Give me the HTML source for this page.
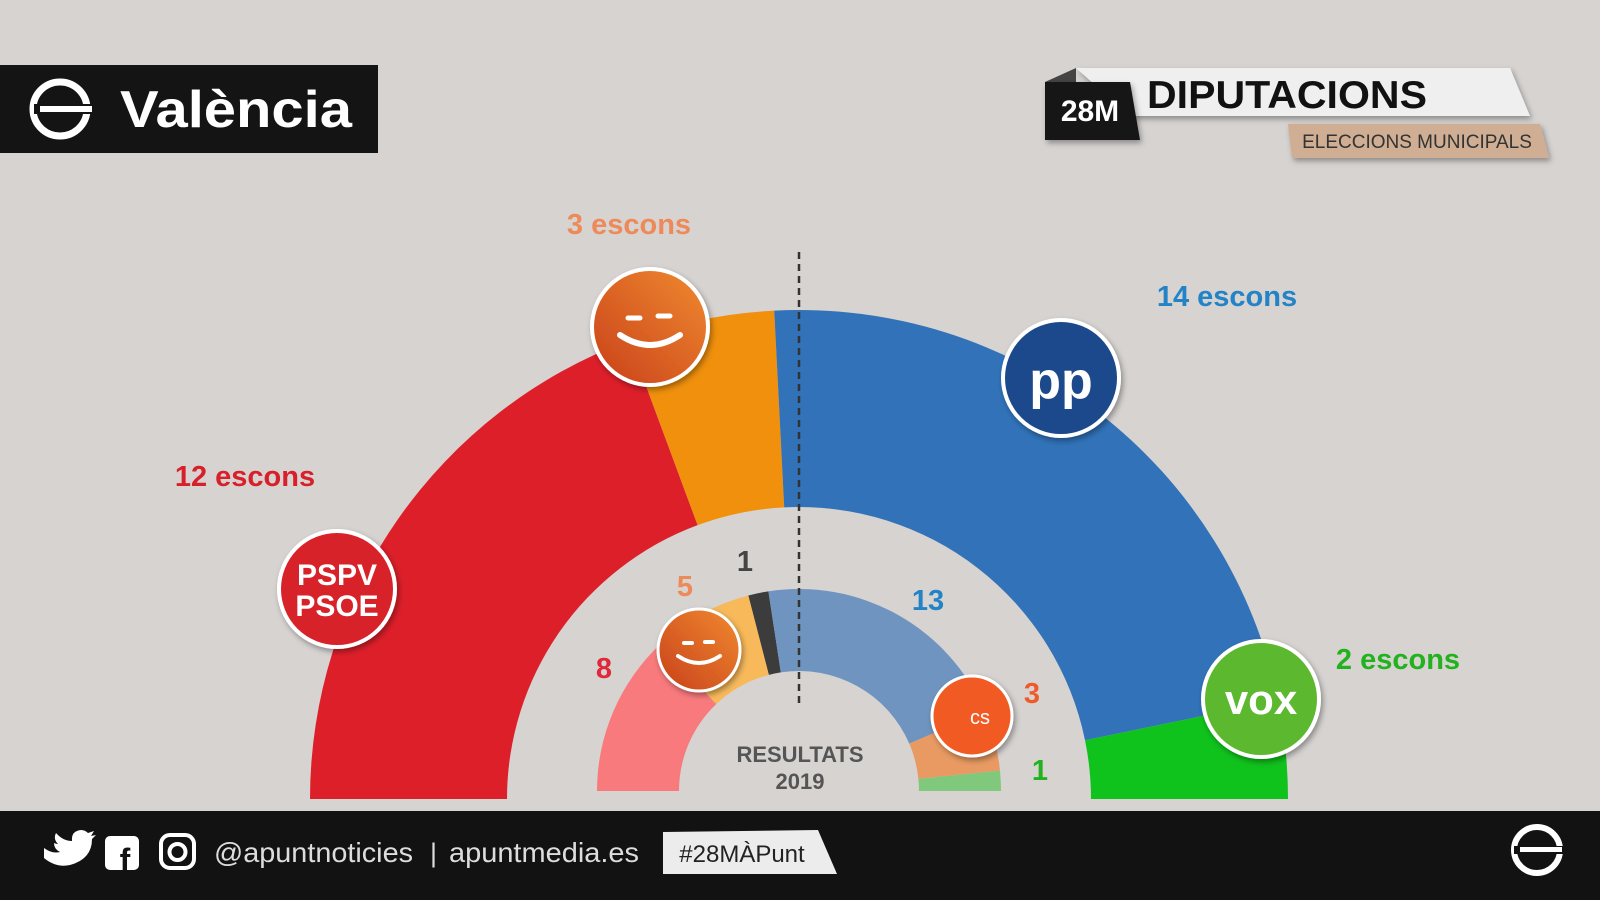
<!DOCTYPE html>
<html><head><meta charset="utf-8"><style>
html,body{margin:0;padding:0;background:#d6d3d1;}
svg{display:block;}
text{font-family:"Liberation Sans","DejaVu Sans",sans-serif;}
</style></head><body>
<svg width="1600" height="900" viewBox="0 0 1600 900" xmlns="http://www.w3.org/2000/svg">
<defs>
<filter id="sh" x="-30%" y="-30%" width="160%" height="160%"><feDropShadow dx="2" dy="3" stdDeviation="3" flood-opacity="0.35"/></filter>
<linearGradient id="cg" x1="0" y1="1" x2="1" y2="0"><stop offset="0" stop-color="#c8401a"/><stop offset="1" stop-color="#f08a30"/></linearGradient>
</defs>
<rect width="1600" height="900" fill="#d6d3d1"/>
<!-- header left -->
<rect x="0" y="65" width="378" height="88" fill="#141414"/>
<circle cx="60" cy="109" r="27" fill="none" stroke="#fff" stroke-width="7"/>
<rect x="34" y="104" width="60" height="10" fill="#141414"/>
<rect x="40" y="106" width="52" height="6" fill="#fff"/>
<text x="120" y="127" font-size="52" font-weight="bold" fill="#fff" textLength="232" lengthAdjust="spacingAndGlyphs">València</text>
<!-- header right -->
<polygon points="1076,68 1510,68 1530,116 1130,116" fill="#efefef" filter="url(#sh)"/>
<polygon points="1045,82 1076,68 1076,82" fill="#444"/>
<polygon points="1045,82 1130,82 1140,140 1045,140" fill="#141414" filter="url(#sh)"/>
<text x="1090" y="121" font-size="30" font-weight="bold" fill="#fff" text-anchor="middle">28M</text>
<text x="1147" y="108" font-size="39" font-weight="bold" fill="#111" textLength="280" lengthAdjust="spacingAndGlyphs">DIPUTACIONS</text>
<polygon points="1288,124 1540,124 1549,158 1292,158" fill="#cfae93" filter="url(#sh)"/>
<text x="1417" y="148" font-size="19" fill="#333" text-anchor="middle">ELECCIONS MUNICIPALS</text>

<!-- outer semicircle -->
<path d="M310,799 A489,489 0 0 1 629.17,340.42 L697.59,525.16 A292,292 0 0 0 507,799 Z" fill="#dd1f2a"/>
<path d="M629.17,340.42 A489,489 0 0 1 774.23,310.63 L784.21,507.37 A292,292 0 0 0 697.59,525.16 Z" fill="#f0900c"/>
<path d="M774.23,310.63 A489,489 0 0 1 1277.99,700.57 L1085.02,740.22 A292,292 0 0 0 784.21,507.37 Z" fill="#3172b9"/>
<path d="M1277.99,700.57 A489,489 0 0 1 1288,799 L1091,799 A292,292 0 0 0 1085.02,740.22 Z" fill="#10c21c"/>
<!-- inner semicircle -->
<path d="M597,791 A202,202 0 0 1 659.83,644.59 L716.32,704.03 A120,120 0 0 0 679,791 Z" fill="#f87a7c"/>
<path d="M659.83,644.59 A202,202 0 0 1 748.37,595.45 L768.92,674.83 A120,120 0 0 0 716.32,704.03 Z" fill="#f8b95a"/>
<path d="M748.37,595.45 A202,202 0 0 1 768.41,591.33 L780.83,672.38 A120,120 0 0 0 768.92,674.83 Z" fill="#3c3c3c"/>
<path d="M768.41,591.33 A202,202 0 0 1 984.63,711.34 L909.28,743.68 A120,120 0 0 0 780.83,672.38 Z" fill="#6f94bf"/>
<path d="M984.63,711.34 A202,202 0 0 1 999.96,770.57 L918.38,778.86 A120,120 0 0 0 909.28,743.68 Z" fill="#e89a62"/>
<path d="M999.96,770.57 A202,202 0 0 1 1001,791 L919,791 A120,120 0 0 0 918.38,778.86 Z" fill="#80c97c"/>

<line x1="799" y1="252" x2="799" y2="708" stroke="#333" stroke-width="2.5" stroke-dasharray="7,5"/>

<!-- labels -->
<g font-weight="bold" text-anchor="middle" font-size="29">
<text x="629" y="234" fill="#ee8a5a">3 escons</text>
<text x="1227" y="306" fill="#2283c6">14 escons</text>
<text x="245" y="486" fill="#d8202a">12 escons</text>
<text x="1398" y="669" fill="#22b21e">2 escons</text>
</g>
<g font-weight="bold" text-anchor="middle" font-size="29">
<text x="604" y="678" fill="#e0283a">8</text>
<text x="685" y="596" fill="#ee8a5a">5</text>
<text x="745" y="571" fill="#444">1</text>
<text x="928" y="610" fill="#2283c6">13</text>
<text x="1032" y="703" fill="#f05a2a">3</text>
<text x="1040" y="780" fill="#22b21e">1</text>
</g>
<text x="800" y="762" font-size="22" font-weight="bold" fill="#555" text-anchor="middle">RESULTATS</text>
<text x="800" y="789" font-size="22" font-weight="bold" fill="#555" text-anchor="middle">2019</text>

<!-- logos -->
<g filter="url(#sh)">
<circle cx="650" cy="327" r="58" fill="url(#cg)" stroke="#fff" stroke-width="4"/>
<circle cx="1061" cy="378" r="58" fill="#1d4a8c" stroke="#fff" stroke-width="4"/>
<circle cx="337" cy="589" r="58" fill="#d8202a" stroke="#fff" stroke-width="4"/>
<circle cx="1261" cy="699" r="58" fill="#5cb82e" stroke="#fff" stroke-width="4"/>
<circle cx="699" cy="650" r="41" fill="url(#cg)" stroke="#fff" stroke-width="3"/>
<circle cx="972" cy="716" r="40" fill="#f15a24" stroke="#fff" stroke-width="3"/>
</g>
<g fill="none" stroke="#fff" stroke-linecap="round">
<path d="M620,335 Q650,355 680,335" stroke-width="6"/>
<line x1="628" y1="318" x2="640" y2="318" stroke-width="5"/>
<line x1="658" y1="316" x2="670" y2="316" stroke-width="5"/>
<path d="M678,656 Q699,670 720,656" stroke-width="4"/>
<line x1="684" y1="643" x2="692" y2="643" stroke-width="4"/>
<line x1="705" y1="642" x2="713" y2="642" stroke-width="4"/>
</g>
<text x="1061" y="398" font-size="52" font-weight="bold" fill="#fff" text-anchor="middle">pp</text>
<text x="337" y="585" font-size="30" font-weight="bold" fill="#fff" text-anchor="middle">PSPV</text>
<text x="337" y="616" font-size="30" font-weight="bold" fill="#fff" text-anchor="middle">PSOE</text>
<text x="1261" y="714" font-size="42" font-weight="bold" fill="#fff" text-anchor="middle">vox</text>
<text x="980" y="724" font-size="20" fill="#fff" text-anchor="middle">cs</text>

<!-- footer -->
<rect x="0" y="811" width="1600" height="89" fill="#121212"/>
<path d="M44,838 q8,6 16,4 q-6,-3 -6,-9 q2,1 4,1 q-5,-5 -2,-11 q7,8 16,8 q-1,-10 9,-11 q4,0 7,3 l6,-2 l-3,5 l5,-1 l-4,4 q0,20 -22,26 q-14,3 -26,-7z" fill="#fff" transform="translate(0,10)"/>
<rect x="105" y="836" width="34" height="34" rx="5" fill="#fff"/>
<text x="125" y="871" font-size="32" font-weight="bold" fill="#121212" text-anchor="middle">f</text>
<rect x="161" y="835" width="33" height="33" rx="9" fill="none" stroke="#fff" stroke-width="4"/>
<circle cx="177.5" cy="852" r="8" fill="none" stroke="#fff" stroke-width="4"/>
<text x="214" y="862" font-size="28" fill="#ddd" textLength="199" lengthAdjust="spacingAndGlyphs">@apuntnoticies</text>
<text x="430" y="862" font-size="27" fill="#ddd">|</text>
<text x="449" y="862" font-size="28" fill="#ddd" textLength="190" lengthAdjust="spacingAndGlyphs">apuntmedia.es</text>
<polygon points="663,832 818,830 837,874 663,874" fill="#ececec"/>
<text x="742" y="862" font-size="24" fill="#222" text-anchor="middle">#28MÀPunt</text>
<circle cx="1537" cy="850" r="23" fill="none" stroke="#fff" stroke-width="6"/>
<rect x="1514" y="846" width="50" height="8" fill="#121212"/>
<rect x="1520" y="847" width="42" height="5" fill="#fff"/>
</svg>
</body></html>
